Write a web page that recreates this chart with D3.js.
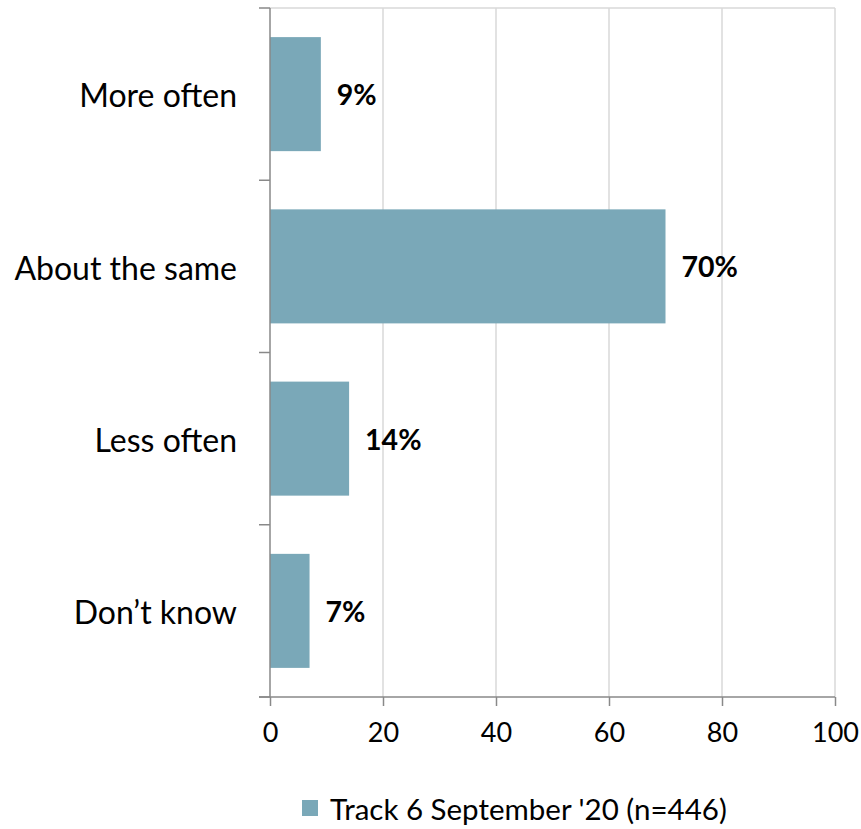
<!DOCTYPE html>
<html>
<head>
<meta charset="utf-8">
<script src="https://cdn.jsdelivr.net/npm/d3@7"></script>
<style>
  html, body { margin: 0; padding: 0; background: #fff; }
  svg { display: block; font-family: Lato, "Open Sans", sans-serif; }
</style>
</head>
<body>
<svg id="chart" width="861" height="829"></svg>
<script>
const categories = ["More often", "About the same", "Less often", "Don\u2019t know"];
const values = [9, 70, 14, 7];
const xTicks = [0, 20, 40, 60, 80, 100];
const seriesName = "Track 6 September '20 (n=446)";

const barColor = "#7aa8b8";
const svg = d3.select("#chart");
const plotLeft = 270, plotRight = 835, plotTop = 8, plotBottom = 697;

const x = d3.scaleLinear().domain([0, 100]).range([plotLeft, plotRight]);
const y = d3.scaleBand().domain(categories).range([plotTop, plotBottom]).paddingInner(0.338).paddingOuter(0.169);

// vertical gridlines
svg.append("g").selectAll("line").data(xTicks.filter(t => t > 0)).join("line")
  .attr("x1", d => x(d)).attr("x2", d => x(d))
  .attr("y1", plotTop).attr("y2", plotBottom)
  .attr("stroke", "#d9d9d9").attr("stroke-width", 1.5);

// top border
svg.append("line").attr("x1", plotLeft).attr("x2", plotRight).attr("y1", plotTop).attr("y2", plotTop)
  .attr("stroke", "#d9d9d9").attr("stroke-width", 1.5);

// bars
svg.append("g").selectAll("rect").data(values).join("rect")
  .attr("x", x(0))
  .attr("y", (d, i) => y(categories[i]))
  .attr("width", d => x(d) - x(0))
  .attr("height", y.bandwidth())
  .attr("fill", barColor);

// value labels
svg.append("g").selectAll("text").data(values).join("text")
  .attr("x", d => x(d) + 16)
  .attr("y", (d, i) => y(categories[i]) + y.bandwidth() / 2 + 1)
  .attr("dy", "0.35em")
  .attr("font-size", 28.5)
  .attr("font-weight", "bold")
  .attr("fill", "#000")
  .text(d => d + "%");

// y axis: line with tick marks at band boundaries
const yAxis = svg.append("g");
yAxis.append("line").attr("x1", plotLeft).attr("x2", plotLeft).attr("y1", plotTop).attr("y2", plotBottom)
  .attr("stroke", "#898989").attr("stroke-width", 1.5);
const boundaries = d3.range(categories.length + 1).map(i => plotTop + i * (plotBottom - plotTop) / categories.length);
yAxis.selectAll("line.tick").data(boundaries).join("line").attr("class", "tick")
  .attr("x1", plotLeft - 11).attr("x2", plotLeft).attr("y1", d => d).attr("y2", d => d)
  .attr("stroke", "#898989").attr("stroke-width", 1.5);
yAxis.selectAll("text").data(categories).join("text")
  .attr("x", 237)
  .attr("y", d => y(d) + y.bandwidth() / 2 + 2)
  .attr("dy", "0.35em")
  .attr("text-anchor", "end")
  .attr("font-size", 32)
  .attr("fill", "#000")
  .text(d => d);

// x axis
const xAxis = svg.append("g").attr("transform", `translate(0,${plotBottom})`)
  .call(d3.axisBottom(x).tickValues(xTicks).tickSize(9).tickPadding(17).tickFormat(d3.format("d")));
xAxis.select(".domain").attr("stroke", "#898989").attr("stroke-width", 1.5)
  .attr("d", `M${plotLeft - 11},0H${plotRight}`);
xAxis.selectAll(".tick line").attr("stroke", "#898989").attr("stroke-width", 1.5);
xAxis.selectAll(".tick text").attr("font-size", 27).attr("fill", "#000")
  .attr("font-family", "Lato, 'Open Sans', sans-serif");

// legend
const legend = svg.append("g");
legend.append("rect").attr("x", 302).attr("y", 800).attr("width", 16).attr("height", 16).attr("fill", barColor);
legend.append("text").attr("x", 330).attr("y", 810).attr("dy", "0.35em")
  .attr("font-size", 29.5).attr("fill", "#000").text(seriesName);
</script>
</body>
</html>
